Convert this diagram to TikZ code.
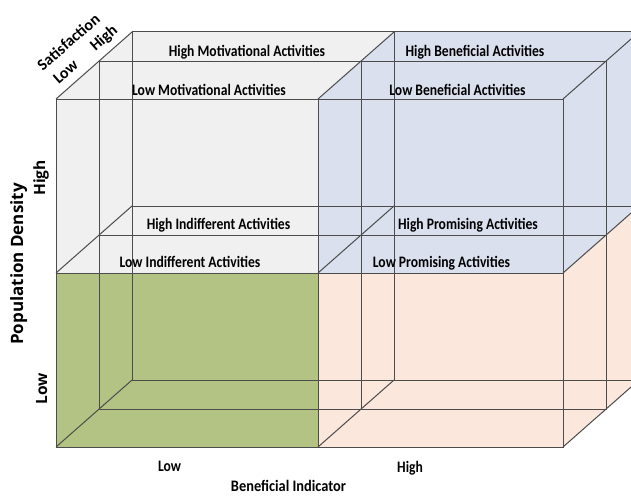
\documentclass[tikz,border=0pt]{standalone}
\usepackage{fontspec}
\usepackage{graphicx}
\setmainfont{Carlito}
\newfontfamily\axisfont{Open Sans}
\definecolor{cellgray}{HTML}{F0F0F0}
\definecolor{cellblue}{HTML}{DAE0EE}
\definecolor{cellgreen}{HTML}{B3C384}
\definecolor{cellpeach}{HTML}{FBE7DB}
\newcommand{\thinlbl}[1]{\scalebox{0.85}[1]{#1}}

\begin{document}
\begin{tikzpicture}[x=1pt, y=-1pt,
		ln/.style = {draw=black!70, line width=1pt},
		lbl/.style = {font=\fontsize{16}{18}\selectfont\bfseries, inner sep=0pt, anchor=base},
		axislbl/.style = {font=\axisfont\bfseries, inner sep=0pt, anchor=base, rotate=90},
		satlbl/.style = {font=\fontsize{16}{18}\selectfont\bfseries, inner sep=0pt, anchor=base, rotate=41}]
				\clip (0,0) rectangle (631,495);

				\fill[cellgray] (56,99) rectangle (318,273)
				(56,99) -- (132,32) -- (394,32) -- (318,99) -- cycle;
				\fill[cellblue] (318,99) rectangle (563,273)
				(318,99) -- (394,32) -- (639,32) -- (563,99) -- cycle
				(563,99) -- (639,32) -- (639,206) -- (563,273) -- cycle;
				\fill[cellgreen] (56,273) rectangle (318,447);
				\fill[cellpeach] (318,273) rectangle (563,447)
				(563,273) -- (639,206) -- (639,380) -- (563,447) -- cycle;

				\draw[ln] (132,32) rectangle (639,380)
				(394,32) -- (394,380)
				(132,206) -- (639,206);
				\draw[ln] (99,61) rectangle (606,409)
				(361,61) -- (361,409)
				(99,235) -- (606,235);
				\draw[ln] (56,99) rectangle (563,447)
				(318,99) -- (318,447)
				(56,273) -- (563,273);
				\draw[ln] (56,99) -- (132,32)
				(318,99) -- (394,32)
				(563,99) -- (639,32)
				(56,273) -- (132,206)
				(318,273) -- (394,206)
				(563,273) -- (639,206)
				(56,447) -- (132,380)
				(318,447) -- (394,380)
				(563,447) -- (639,380);

				\node[lbl] (hmot) at (247,56.5) {\thinlbl{High Motivational Activities}};
				\node[lbl] (lmot) at (209,95) {\thinlbl{Low Motivational Activities}};
				\node[lbl] (hben) at (475,56.5) {\thinlbl{High Beneficial Activities}};
				\node[lbl] (lben) at (457.5,95) {\thinlbl{Low Beneficial Activities}};
				\node[lbl] (hind) at (218.5,229) {\thinlbl{High Indifferent Activities}};
				\node[lbl] (lind) at (190,267) {\thinlbl{Low Indifferent Activities}};
				\node[lbl] (hpro) at (468,229) {\thinlbl{High Promising Activities}};
				\node[lbl] (lpro) at (441.5,267) {\thinlbl{Low Promising Activities}};

				\node[lbl] (xlow) at (169.5,471) {\thinlbl{Low}};
				\node[lbl] (xhigh) at (410,472) {\thinlbl{High}};
				\node[lbl] (xname) at (288.5,491) {\scalebox{0.9}[1]{Beneficial Indicator}};

				\node[axislbl, font=\axisfont\bfseries\fontsize{17}{19}\selectfont] (yname) at (23,264) {Population Density};
				\node[axislbl, font=\axisfont\bfseries\fontsize{15.5}{17}\selectfont] (yhigh) at (45,178) {High};
				\node[axislbl, font=\axisfont\bfseries\fontsize{15.5}{17}\selectfont] (ylow) at (47,389) {Low};

				\node[satlbl] (zname) at (72,46) {Satisfaction};
				\node[satlbl] (zlow) at (69,76) {Low};
				\node[satlbl] (zhigh) at (107,42) {High};

			\end{tikzpicture}
\end{document}
